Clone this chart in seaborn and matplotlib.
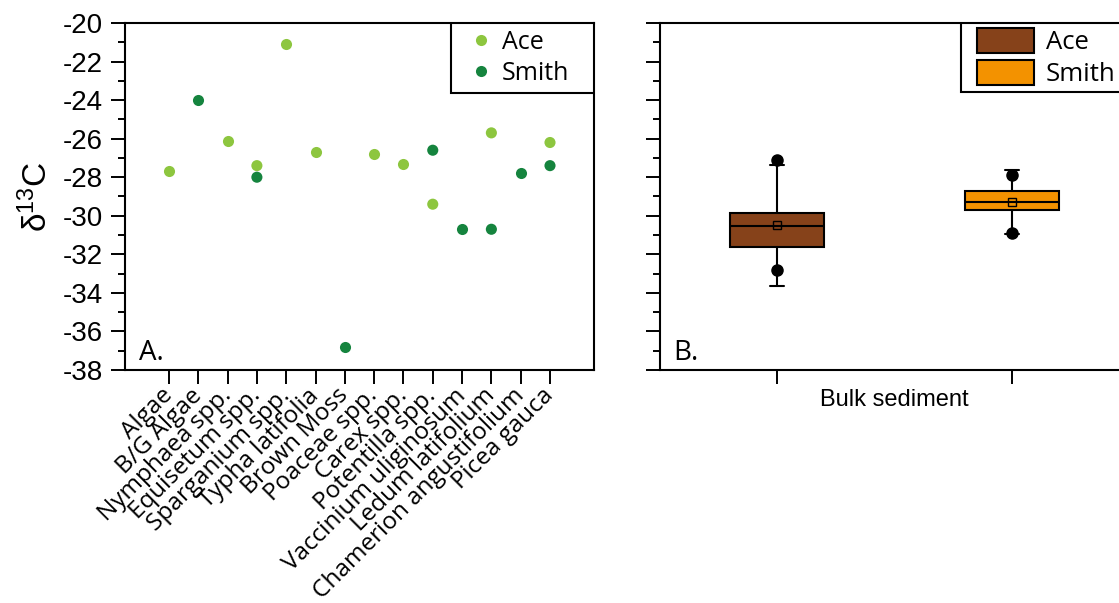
import numpy as np
import pandas as pd
import matplotlib
matplotlib.use('Agg')
import matplotlib.pyplot as plt
import seaborn as sns
from matplotlib.patches import Rectangle
from matplotlib.ticker import MultipleLocator

# Panel A: plant d13C values by taxon (NaN = not measured at that lake)
plants = ['Algae', 'B/G Algae', 'Nymphaea spp.', 'Equisetum spp.', 'Sparganium spp.',
          'Typha latifolia', 'Brown Moss', 'Poaceae spp.', 'Carex spp.', 'Potentilla spp.',
          'Vaccinium uliginosum', 'Ledum latifolium', 'Chamerion angustifolium', 'Picea gauca']
ace = [-27.7, np.nan, -26.1, -27.4, -21.1, -26.7, np.nan, -26.8, -27.3, -29.4,
       np.nan, -25.7, np.nan, -26.2]
smith = [np.nan, -24.0, np.nan, -28.0, np.nan, np.nan, -36.8, np.nan, np.nan, -26.6,
         -30.7, -30.7, -27.8, -27.4]

# Panel B: bulk sediment box statistics
sites = ['Ace', 'Smith']
q1 = [-31.6, -29.68]
q3 = [-29.84, -28.7]
med = [-30.53, -29.3]
mean = [-30.5, -29.3]
whislo = [-33.62, -30.92]
whishi = [-27.37, -27.63]
extremes = [[-27.1, -32.81], [-27.9, -30.9]]

green_light = '#8DC63F'
green_dark = '#15843E'
box_colors = ['#86421A', '#F39200']

sns.set_style('white')
plt.rcParams['font.family'] = ['Open Sans', 'DejaVu Sans']
plt.rcParams['mathtext.fontset'] = 'custom'
plt.rcParams['mathtext.rm'] = 'Liberation Sans'
plt.rcParams['mathtext.it'] = 'Liberation Sans:italic'
plt.rcParams['axes.unicode_minus'] = False
for key in ['text.color', 'axes.labelcolor', 'xtick.color', 'ytick.color']:
    plt.rcParams[key] = 'black'

fig = plt.figure(figsize=(11.19, 6.03), dpi=100)
ax1 = fig.add_axes([0.1117, 0.3864, 0.4191, 0.5755])
ax2 = fig.add_axes([0.5898, 0.3864, 0.4191, 0.5755])

for ax in (ax1, ax2):
    ax.set_ylim(-38, -20)
    ax.yaxis.set_major_locator(MultipleLocator(2))
    ax.yaxis.set_minor_locator(MultipleLocator(1))
    ax.tick_params(which='major', direction='out', length=10, width=1.4,
                   left=True, bottom=True)
    ax.tick_params(which='minor', direction='out', length=5, width=1.4, left=True)
    ax.tick_params(axis='x', which='minor', bottom=False)
    for s in ax.spines.values():
        s.set_linewidth(1.5)
        s.set_color('black')
ax1.tick_params(axis='x', which='major', pad=6)
ax1.tick_params(axis='y', which='major', pad=6)

df = pd.DataFrame({'Plant': plants * 2,
                   'd13C': ace + smith,
                   'Site': ['Ace'] * len(plants) + ['Smith'] * len(plants)}).dropna()

sns.stripplot(data=df, x='Plant', y='d13C', hue='Site', order=plants,
              palette=[green_light, green_dark], jitter=False, size=8,
              linewidth=0, ax=ax1)
handles, labels = ax1.get_legend_handles_labels()
# legend frame drawn separately so the padding can match the original
ax1.add_patch(Rectangle((0.696, 0.798), 0.304, 0.202, transform=ax1.transAxes,
                        facecolor='white', edgecolor='black', linewidth=1.5, zorder=4))
ax1.legend(handles, labels, loc='upper left', bbox_to_anchor=(0.724, 0.99),
           borderaxespad=0, borderpad=0.15, frameon=False, fontsize=18,
           handlelength=1.0, handletextpad=0.35, labelspacing=0.22)
ax1.set_xlim(-1.5, 14.5)
ax1.set_ylim(-38, -20)
ax1.set_xlabel('')
ax1.set_ylabel('δ$^{13}$C', fontsize=24, family='Liberation Sans', labelpad=6)
ax1.text(0.03, 0.03, 'A.', transform=ax1.transAxes, fontsize=20)
ax1.set_xticks(range(len(plants)))
ax1.set_xticklabels(plants, rotation=45, ha='right', va='center',
                    rotation_mode='anchor', fontsize=17.5, family='Open Sans')
for lab in ax1.get_yticklabels():
    lab.set_family('Liberation Sans')
    lab.set_fontsize(20)

stats = []
for i in range(len(sites)):
    stats.append({'q1': q1[i], 'q3': q3[i], 'med': med[i], 'mean': mean[i],
                  'whislo': whislo[i], 'whishi': whishi[i], 'fliers': extremes[i]})
bp = ax2.bxp(stats, positions=[0, 1], widths=0.4, capwidths=0.06, patch_artist=True,
             showmeans=True, showfliers=True,
             boxprops=dict(linewidth=1.5, edgecolor='black'),
             medianprops=dict(color='black', linewidth=1.5),
             whiskerprops=dict(linewidth=1.5),
             capprops=dict(linewidth=1.5),
             meanprops=dict(marker='s', markerfacecolor='none', markeredgecolor='black',
                            markersize=6, markeredgewidth=1),
             flierprops=dict(marker='o', markerfacecolor='black', markeredgecolor='black',
                             markersize=8))
for patch, c in zip(bp['boxes'], box_colors):
    patch.set_facecolor(c)
ax2.add_patch(Rectangle((0.641, 0.801), 0.4, 0.199, transform=ax2.transAxes,
                        facecolor='white', edgecolor='black', linewidth=1.5, zorder=4))
ax2.legend(bp['boxes'], sites, loc='upper left', bbox_to_anchor=(0.677, 0.985),
           borderaxespad=0, borderpad=0, frameon=False, fontsize=18.5,
           handlelength=2.2, handleheight=1.1, handletextpad=0.45, labelspacing=0.18)
ax2.set_xlim(-0.5, 1.5)
ax2.set_ylim(-38, -20)
ax2.set_xticks([0, 1])
ax2.set_xticklabels([])
ax2.set_xlabel('Bulk sediment', fontsize=17, family='Liberation Sans', labelpad=0.5)
ax2.text(0.028, 0.03, 'B.', transform=ax2.transAxes, fontsize=20)
ax2.tick_params(axis='y', labelleft=False)

fig.savefig('out.png', dpi=100)
